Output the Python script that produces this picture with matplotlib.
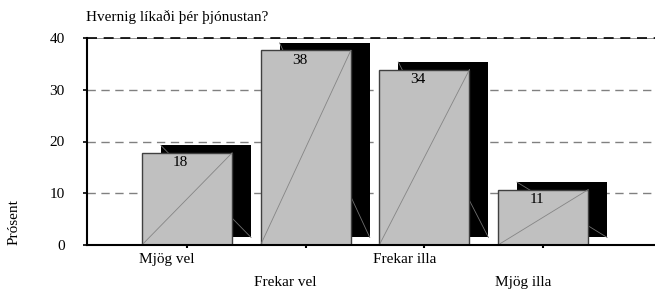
import numpy as np
from matplotlib import pyplot as plt

plt.rcParams['font.family'] = ['Liberation Serif', 'DejaVu Serif']
plt.rcParams['font.size'] = 11

title = 'Hvernig líkaði þér þjónustan?'
categories = ['Mjög vel', 'Frekar vel', 'Frekar illa', 'Mjög illa']
values = [17.8, 37.6, 33.9, 10.7]
yticks = [0, 10, 20, 30, 40]

x = np.arange(len(categories))
width = 0.76
dx, dy = 0.16, 1.45   # shadow offset

fig = plt.figure(figsize=(6.55, 2.94), dpi=100)
ax = fig.add_axes([87/655, 49/294, 568/655, 207/294])
ax.set_xlim(-0.8425, 3.943)
ax.set_ylim(0, 40)

# grid
for yv in yticks[1:-1]:
    ax.axhline(yv, color='#808080', lw=1.0, dashes=(6, 4), zorder=0)
ax.axhline(40, color='#808080', lw=1.2, zorder=0)
ax.axhline(40, color='black', lw=1.2, dashes=(6, 4), zorder=0.5, clip_on=False)

# shadows
ax.bar(x + dx, values, width, bottom=dy, color='black', zorder=1)
for xi, v in zip(x, values):
    x0 = xi + dx - width/2
    ax.plot([x0, x0 + width], [dy + v, dy], color='#707070', lw=0.6, zorder=1.5)

# bars
ax.bar(x, values, width, color='#c0c0c0', edgecolor='#404040', lw=1.0, zorder=2)
for xi, v in zip(x, values):
    x0 = xi - width/2
    ax.plot([x0, x0 + width], [0, v], color='#858585', lw=0.6, zorder=2.5)
    ax.annotate(f'{v:.0f}', (xi, v), xytext=(-4.5, -7), textcoords='offset points',
                ha='center', va='center', zorder=3)

for sp in ['top', 'right']:
    ax.spines[sp].set_visible(False)
ax.spines['left'].set_linewidth(1.5)
ax.spines['bottom'].set_linewidth(1.5)

ax.set_yticks(yticks)
ax.tick_params(axis='y', length=3, width=1.2, pad=13)
ax.set_xticks(x)
ax.set_xticklabels([''] * len(x))
ax.tick_params(axis='x', length=2.5, width=1.5)

trans = ax.get_xaxis_transform()
for i, (xi, lab) in enumerate(zip(x, categories)):
    yy = -0.068 if i % 2 == 0 else -0.18
    ax.text(xi - 0.17, yy, lab, transform=trans, ha='center', va='center')

fig.text(86/655, 1 - 17/294, title, ha='left', va='center')
fig.text(14/655, 1 - 222/294, 'Prósent', rotation=90, ha='center', va='center')

plt.savefig('out.png', dpi=100)
